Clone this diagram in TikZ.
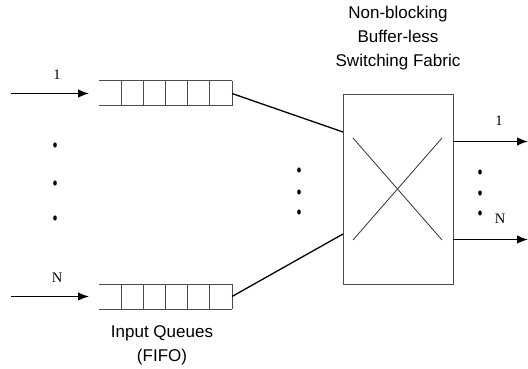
\documentclass[tikz,border=0pt]{standalone}
\usepackage{fontspec}
\setmainfont{Liberation Serif}
\newfontfamily\labelsans{Liberation Sans}
\usetikzlibrary{arrows.meta}
\tikzset{
  flow/.style={line width=1.3pt, black, -{Latex[length=11pt,width=8.5pt]}},
  qline/.style={line width=1pt, black!70},
  link/.style={line width=1.3pt, black},
  fabric/.style={draw=black!70, line width=1pt},
  crossline/.style={line width=0.8pt, black!80},
  portlabel/.style={font=\fontsize{14.5}{15}\selectfont, inner sep=0pt},
  caption/.style={font=\labelsans\fontsize{17}{24}\selectfont, align=center, inner sep=0pt}
}
\begin{document}
\begin{tikzpicture}[x=1pt, y=-1pt]
  \useasboundingbox (0,0) rectangle (528,369);

  % input queues: open on the left, five closed cells on the right
  \foreach \yt in {81, 284} {
    \draw[qline] (99,\yt) -- (232,\yt);
    \draw[qline] (99,\yt+25) -- (232,\yt+25);
    \foreach \xc in {121,143.2,165.4,187.6,209.8,232}
      \draw[qline] (\xc,\yt) -- (\xc,\yt+25);
  }
  \coordinate (q1in) at (89,93.5);
  \coordinate (q1out) at (232,93.5);
  \coordinate (qNin) at (89,296.5);
  \coordinate (qNout) at (232,296.5);

  % input lines
  \coordinate (src1) at (11,93.5);
  \coordinate (srcN) at (11,296.5);
  \draw[flow] (src1) -- (q1in);
  \draw[flow] (srcN) -- (qNin);
  \node[portlabel] (lin1) at (57,75) {1};
  \node[portlabel] (linN) at (57,278) {N};

  % switching fabric
  \node[fabric, minimum width=110pt, minimum height=190pt, inner sep=0pt, anchor=north west]
    (sw) at (343,94) {};
  \coordinate (c1) at (353,138);
  \coordinate (c2) at (442,240);
  \coordinate (c3) at (442,138);
  \coordinate (c4) at (353,240);
  \draw[crossline] (c1) -- (c2);
  \draw[crossline] (c3) -- (c4);

  % queue heads to fabric
  \coordinate (swin1) at (343,132);
  \coordinate (swinN) at (343,234);
  \draw[link] (q1out) -- (swin1);
  \draw[link] (qNout) -- (swinN);

  % outputs
  \coordinate (swout1) at (453,141.5);
  \coordinate (swoutN) at (453,239.5);
  \coordinate (dst1) at (528,141.5);
  \coordinate (dstN) at (528,239.5);
  \draw[flow] (swout1) -- (dst1);
  \draw[flow] (swoutN) -- (dstN);
  \node[portlabel] (lout1) at (499,121) {1};
  \node[portlabel] (loutN) at (500,219) {N};

  % ellipsis dots
  \foreach \x/\y in {55/145, 55/183, 55/218, 299/170, 299/192, 299/212, 480/172, 480/193, 480/213}
    \fill (\x,\y) ellipse (1.8pt and 2.6pt);

  % captions
  \node[caption] (title) at (398,38) {Non-blocking\\Buffer-less\\Switching Fabric};
  \node[caption] (qcap) at (162,345) {Input Queues\\(FIFO)};
\end{tikzpicture}
\end{document}
